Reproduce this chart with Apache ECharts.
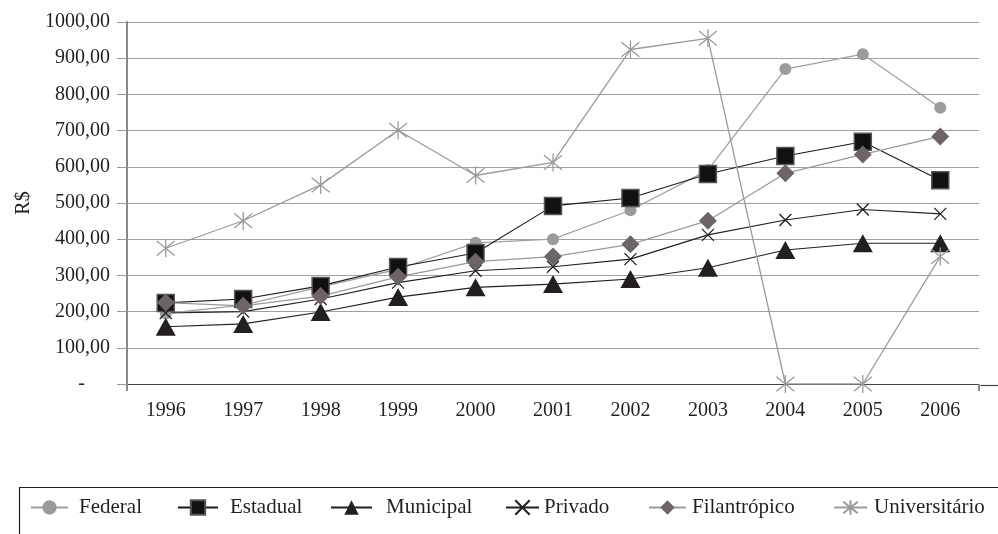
<!DOCTYPE html>
<html>
<head>
<meta charset="utf-8">
<script src="https://cdn.jsdelivr.net/npm/echarts@6/dist/echarts.min.js"></script>
<style>
html,body{margin:0;padding:0;background:#fff;}
#chart{width:998px;height:534px;}
</style>
</head>
<body>
<div id="chart"></div>
<script>
var years = ['1996','1997','1998','1999','2000','2001','2002','2003','2004','2005','2006'];
var federal = [195, 218, 268, 317, 390, 400, 480, 591, 870, 911, 763];
var estadual = [224, 235, 271, 323, 362, 492, 514, 580, 630, 669, 563];
var municipal = [158, 166, 199, 240, 267, 276, 290, 321, 370, 389, 389];
var privado = [196, 200, 235, 280, 313, 324, 345, 412, 453, 482, 470];
var filantropico = [225, 216, 243, 296, 338, 352, 386, 451, 582, 634, 684];
var universitario = [375, 451, 550, 701, 576, 612, 924, 955, 0, 0, 352];
var seriesNames = ['Federal','Estadual','Municipal','Privado','Filantrópico','Universitário'];

var FONT = '"Liberation Serif", "DejaVu Serif", serif';
var xPath = 'path://M0,0L10,10M10,0L0,10';
var starPath = 'path://M0,0L10,10M10,0L0,10M5,-1.2L5,11.2';

var chart = echarts.init(document.getElementById('chart'), null, {renderer:'canvas'});

function mkLegend(name, left, width, pad) {
  return {
    data: [name], left: left, top: 492, itemWidth: width, itemHeight: 18,
    textStyle: {fontFamily: FONT, fontSize: 21, color: '#231f20', padding: [0,0,0,pad]},
    selectedMode: false
  };
}

var option = {
  animation: false,
  backgroundColor: '#fff',
  grid: {left: 127, right: 19, top: 22, bottom: 150, containLabel: false},
  legend: [
    mkLegend('Federal', 25, 37, 6),
    mkLegend('Estadual', 172, 40, 7),
    mkLegend('Municipal', 325, 41, 9),
    mkLegend('Privado', 500, 33, 0),
    mkLegend('Filantrópico', 643, 37, 1),
    mkLegend('Universitário', 828, 33, 2)
  ],
  xAxis: {
    type: 'category', data: years, boundaryGap: true,
    axisLine: {lineStyle: {color: '#444', width: 1.2}},
    axisTick: {show: true, length: 7, interval: function(i){return i===0;}, lineStyle:{color:'#888', width:2}},
    axisLabel: {fontFamily: FONT, fontSize: 20, color: '#231f20', margin: 17}
  },
  yAxis: {
    type: 'value', min: 0, max: 1000, interval: 100,
    name: 'R$', nameLocation: 'middle', nameGap: 89, nameRotate: 90,
    nameTextStyle: {fontFamily: FONT, fontSize: 20, color: '#231f20'},
    axisLine: {show: true, lineStyle: {color: '#888', width: 2}},
    axisTick: {show: true, length: 10, lineStyle: {color: '#999', width: 1}},
    splitLine: {lineStyle: {color: '#a0a0a0', width: 1}},
    axisLabel: {
      fontFamily: FONT, fontSize: 20, color: '#231f20', margin: 17,
      formatter: function(v){
        if (v === 0) return '{d|-}';
        return v.toFixed(2).replace('.', ',');
      },
      rich: {d: {fontFamily: FONT, fontSize: 20, color: '#231f20', padding: [0, 25, 0, 0]}}
    }
  },
  series: [
    {name: 'Federal', type: 'line', data: federal, symbol: 'circle', symbolSize: 12,
     lineStyle: {color: '#a0a0a0', width: 1.3}, itemStyle: {color: '#9b9b9d'}},
    {name: 'Estadual', type: 'line', data: estadual, symbol: 'rect', symbolSize: 17,
     lineStyle: {color: '#1a1a1a', width: 1.1}, itemStyle: {color: '#111', borderColor: '#555', borderWidth: 1.5}},
    {name: 'Municipal', type: 'line', data: municipal, symbol: 'triangle', symbolSize: [20, 18],
     lineStyle: {color: '#231f20', width: 1.1}, itemStyle: {color: '#231f20'}},
    {name: 'Privado', type: 'line', data: privado, symbol: xPath, symbolSize: 12,
     lineStyle: {color: '#231f20', width: 1.1}, itemStyle: {color: 'none', borderColor: '#231f20', borderWidth: 1.3}},
    {name: 'Filantrópico', type: 'line', data: filantropico, symbol: 'diamond', symbolSize: 18,
     lineStyle: {color: '#9a9a9a', width: 1.3}, itemStyle: {color: '#6d6465'}},
    {name: 'Universitário', type: 'line', data: universitario, symbol: starPath, symbolSize: 18,
     lineStyle: {color: '#9a9a9a', width: 1.3}, itemStyle: {color: 'none', borderColor: '#9a9a9a', borderWidth: 1.3}}
  ],
  graphic: [
    {type: 'rect', left: 17, top: 485, shape: {x: 0, y: 0, width: 1000, height: 60},
     style: {fill: 'none', stroke: '#231f20', lineWidth: 1.2}, z: -1, silent: true},
    {type: 'line', left: 978, top: 383, shape: {x1: 0, y1: 0, x2: 22, y2: 0},
     style: {stroke: '#444', lineWidth: 1.2}, silent: true}
  ]
};
chart.setOption(option);
</script>
</body>
</html>
